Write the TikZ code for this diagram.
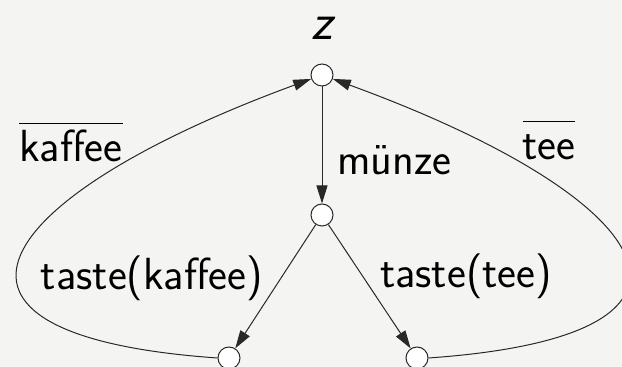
\documentclass[tikz,border=0pt]{standalone}
\usepackage{fontspec}
\usetikzlibrary{arrows.meta}
\definecolor{bggray}{RGB}{244,245,242}
\definecolor{linegray}{RGB}{40,40,40}

\begin{document}
\begin{tikzpicture}[x=0.5pt,y=-0.5pt,
    state/.style={circle,draw=linegray,line width=0.5pt,fill=white,minimum size=11pt,inner sep=0pt},
    trans/.style={-{Triangle[length=9pt,width=5.5pt]},line width=0.5pt,draw=linegray},
    lbl/.style={font=\fontsize{22.5}{27}\selectfont\sffamily,inner sep=0pt}]
        \fill[bggray] (0,0) rectangle (622,367);
        \clip (0,0) rectangle (622,367);
        % States
        \node[state] (top) at (322,75) {};
        \node[state] (mid) at (322,215) {};
        \node[state] (bl) at (229,358) {};
        \node[state] (br) at (417,358) {};
        \node[lbl,font=\fontsize{26}{31}\selectfont\sffamily\itshape] (zname) at (322,28) {z};
        % Coin and buttons
        \draw[trans] (top) -- (mid);
        \draw[trans] (mid) -- (bl);
        \draw[trans] (mid) -- (br);
        \node[lbl,anchor=west] (muenze) at (337,160) {münze};
        \node[lbl] (tkaffee) at (152,278) {taste(kaffee)};
        \node[lbl] (ttee) at (466,276) {taste(tee)};
        % Back to start
        \draw[trans] (bl.west) .. controls (-110,335) and (-5,195) .. (top.200);
        \draw[trans] (br.east) .. controls (756,335) and (651,195) .. (top.-20);
        \node[lbl] (kaffee) at (71,142) {$\overline{\rule{0pt}{0.78em}\mbox{kaffee}}$};
        \node[lbl] (tee) at (549,140) {$\overline{\rule{0pt}{0.78em}\mbox{tee}}$};
\end{tikzpicture}
\end{document}
